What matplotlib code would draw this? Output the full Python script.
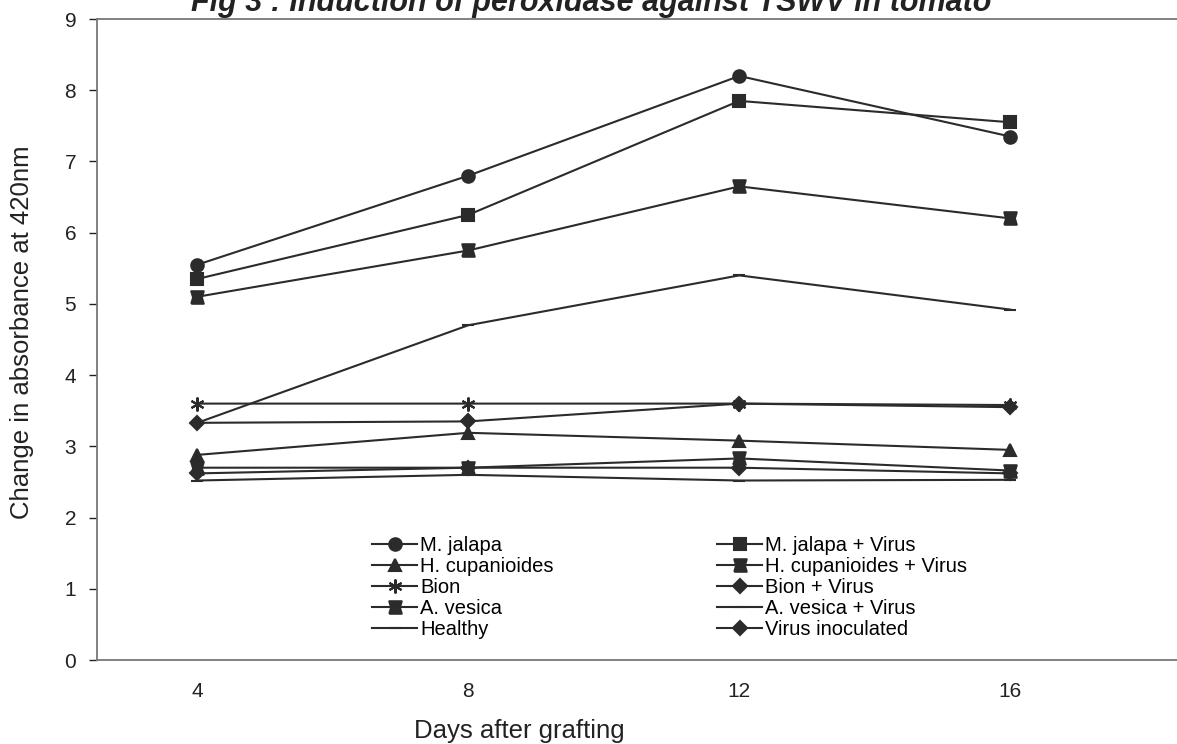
import numpy as np
from matplotlib import pyplot as plt

days = [4, 8, 12, 16]
m_jalapa = [5.55, 6.80, 8.20, 7.35]
m_jalapa_virus = [5.35, 6.25, 7.85, 7.55]
h_cup = [2.88, 3.19, 3.08, 2.95]
h_cup_virus = [5.10, 5.75, 6.65, 6.20]
bion = [3.60, 3.60, 3.60, 3.58]
bion_virus = [3.33, 3.35, 3.60, 3.55]
a_vesica = [2.70, 2.70, 2.83, 2.66]
a_vesica_virus = [3.33, 4.70, 5.40, 4.92]
healthy = [2.52, 2.60, 2.52, 2.53]
virus_inoc = [2.62, 2.70, 2.70, 2.62]

nombres = ['M. jalapa', 'M. jalapa + Virus', 'H. cupanioides', 'H. cupanioides + Virus',
           'Bion', 'Bion + Virus', 'A. vesica', 'A. vesica + Virus', 'Healthy', 'Virus inoculated']
series = [m_jalapa, m_jalapa_virus, h_cup, h_cup_virus, bion, bion_virus,
          a_vesica, a_vesica_virus, healthy, virus_inoc]

# marcador tipo "reloj de arena" como el de Excel escaneado
moño = [(-1, -1), (1, -1), (0.7, 0), (1, 1), (-1, 1), (-0.7, 0), (-1, -1)]
marcadores = ['o', 's', '^', moño, (6, 2, 0), 'D', moño, '_', '_', 'D']
tamaños = [9, 9, 9, 9, 10, 7, 9, 9, 9, 7]

plt.rcParams['font.family'] = ['Liberation Sans', 'DejaVu Sans']
color = '#2b2b2b'
texto = '#222222'

fig = plt.figure(figsize=(11.77, 7.44), dpi=100)
ax = fig.add_axes([97 / 1177, 84 / 744, 1080 / 1177, 641 / 744])

lineas = []
for y, nombre, m, ms in zip(series, nombres, marcadores, tamaños):
    l, = ax.plot(days, y, color=color, lw=1.5, marker=m, ms=ms,
                 mfc=color, mec=color, mew=1.5, label=nombre)
    lineas.append(l)

ax.set_xlim(2.52, 18.46)
ax.set_ylim(0, 9)
ax.set_xticks(days)
ax.set_yticks(range(0, 10))
ax.tick_params(axis='x', length=0, pad=16, labelsize=15, colors=texto)
ax.tick_params(axis='y', length=6, width=1, pad=9, labelsize=15, colors=texto,
               direction='out')
ax.spines['right'].set_visible(False)
for s in ['left', 'bottom', 'top']:
    ax.spines[s].set_color('#777777')
    ax.spines[s].set_linewidth(1.3)

fig.text(519 / 1177, 1 - 731 / 744, 'Days after grafting', ha='center', va='center',
         fontsize=18.5, color=texto)
fig.text(22 / 1177, 1 - 332 / 744, 'Change in absorbance at 420nm', ha='center',
         va='center', rotation=90, fontsize=18.5, color=texto)

fig.text(591 / 1177, 1 - 11 / 744, 'Fig 3 : Induction of peroxidase against TSWV in tomato',
         ha='center', va='baseline', fontsize=22, fontweight='bold', fontstyle='italic',
         color=texto)

izq = [lineas[i] for i in (0, 2, 4, 6, 8)]
der = [lineas[i] for i in (1, 3, 5, 7, 9)]
opciones = dict(frameon=False, fontsize=14.5, handlelength=2.25, handletextpad=0.15,
                labelspacing=0.1, borderpad=0, bbox_transform=fig.transFigure,
                loc='upper left')
leg1 = ax.legend(handles=izq, bbox_to_anchor=(362 / 1177, 1 - 526 / 744), **opciones)
ax.add_artist(leg1)
ax.legend(handles=der, bbox_to_anchor=(707 / 1177, 1 - 526 / 744), **opciones)

plt.savefig('out.png', dpi=100)
